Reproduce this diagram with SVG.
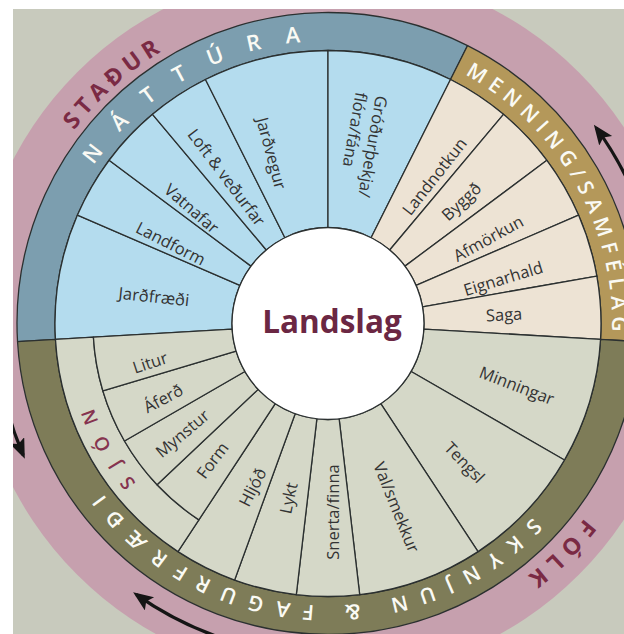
<svg xmlns="http://www.w3.org/2000/svg" xmlns:xlink="http://www.w3.org/1999/xlink" width="624" height="634" viewBox="0 0 624 634">
<style>
.ln{stroke:#2b3030;stroke-width:1.3;stroke-linejoin:round}
.sb{fill:#b4dcee}
.sg{fill:#ede3d4}
.so{fill:#d5d8c8}
.bb{fill:#7c9eaf}
.bgd{fill:#b4985a}
.bo{fill:#7e7c58}
.lbl{font-family:'Open Sans','Liberation Sans',sans-serif;font-size:16.5px;fill:#333;text-anchor:middle;dominant-baseline:central}
.arc{font-family:'Open Sans','Liberation Sans',sans-serif;font-weight:600;fill:#fafaf4;text-anchor:middle}
.pk{font-family:'Open Sans','Liberation Sans',sans-serif;font-weight:700;fill:#7a2a44;text-anchor:middle}
.arr{fill:none;stroke:#151515;stroke-width:3.2}
</style>
<defs>
<marker id="ah" markerUnits="userSpaceOnUse" markerWidth="22" markerHeight="18" refX="16" refY="8" orient="auto">
<path d="M0,0 L20,8 L0,16 L4,8 Z" fill="#151515"/>
</marker>
<path id="pStadur" d="M540.21,561.68 A319,319 0 1 1 115.79,85.32 A319,319 0 1 1 540.21,561.68"/>
<path id="pNatt" d="M461.93,572.24 A282,282 0 1 1 194.07,74.76 A282,282 0 1 1 461.93,572.24"/>
<path id="pMenn" d="M80.01,461.91 A284,284 0 1 1 575.99,185.09 A284,284 0 1 1 80.01,461.91"/>
<path id="pSkyn" d="M349.64,42.33 A282,282 0 1 1 306.36,604.67 A282,282 0 1 1 349.64,42.33"/>
<path id="pSjon" d="M547.44,205.84 A249,249 0 1 1 108.56,441.16 A249,249 0 1 1 547.44,205.84"/>
<path id="pFolk" d="M100.71,95.41 A322,322 0 1 1 555.29,551.59 A322,322 0 1 1 100.71,95.41"/>
</defs>

<rect x="0" y="0" width="624" height="634" fill="#c8cabd"/>
<circle cx="328" cy="323.5" r="355" fill="#c6a0ae"/>

<g id="band-nattura">
<path class="bb ln" d="M17.53,341.58 A311,311 0 0 1 467.58,45.58 L450.52,79.54 A273,273 0 0 0 55.46,339.37 Z"/>
<text class="arc" font-size="22" letter-spacing="24.5"><textPath xlink:href="#pNatt" startOffset="50%">NÁTTÚRA</textPath></text>
</g>
<g id="band-menning">
<path class="bgd ln" d="M467.58,45.58 A311,311 0 0 1 638.47,341.58 L600.54,339.37 A273,273 0 0 0 450.52,79.54 Z"/>
<text class="arc" font-size="21" letter-spacing="6.2"><textPath xlink:href="#pMenn" startOffset="50%">MENNING/SAMFÉLAG</textPath></text>
</g>
<g id="band-skynjun">
<path class="bo ln" d="M638.47,341.58 A311,311 0 0 1 17.53,341.58 L55.46,339.37 A273,273 0 0 0 600.54,339.37 Z"/>
<text class="arc" font-size="21" letter-spacing="12.4"><textPath xlink:href="#pSkyn" startOffset="50%">SKYNJUN &amp; FAGURFRÆÐI</textPath></text>
</g>
<g id="label-stadur">
<text class="pk" font-size="23" letter-spacing="5.2"><textPath xlink:href="#pStadur" startOffset="50%">STAÐUR</textPath></text>
</g>
<g id="label-folk">
<text class="pk" font-size="23" letter-spacing="7.5"><textPath xlink:href="#pFolk" startOffset="50%">FÓLK</textPath></text>
</g>

<g id="seg-jardfraedi"><path class="sb ln" d="M55.46,339.37 A273,273 0 0 1 77.45,215.08 L239.90,285.37 A96,96 0 0 0 232.16,329.08 Z"/><text class="lbl" transform="translate(154,296) rotate(6)">Jarðfræði</text></g>
<g id="seg-landform"><path class="sb ln" d="M77.45,215.08 A273,273 0 0 1 109.11,160.35 L251.03,266.13 A96,96 0 0 0 239.90,285.37 Z"/><text class="lbl" transform="translate(171,243) rotate(27)">Landform</text></g>
<g id="seg-vatnafar"><path class="sb ln" d="M109.11,160.35 A273,273 0 0 1 152.52,114.37 L266.29,249.96 A96,96 0 0 0 251.03,266.13 Z"/><text class="lbl" transform="translate(192,208) rotate(41)">Vatnafar</text></g>
<g id="seg-loft"><path class="sb ln" d="M152.52,114.37 A273,273 0 0 1 205.48,79.54 L284.92,237.71 A96,96 0 0 0 266.29,249.96 Z"/><text class="lbl" transform="translate(227,177) rotate(53)">Loft &amp; veðurfar</text></g>
<g id="seg-jardvegur"><path class="sb ln" d="M205.48,79.54 A273,273 0 0 1 328,50.5 L328,227.5 A96,96 0 0 0 284.92,237.71 Z"/><text class="lbl" transform="translate(272,153) rotate(75)">Jarðvegur</text></g>
<g id="seg-grodur"><path class="sb ln" d="M328,50.5 A273,273 0 0 1 450.52,79.54 L371.08,237.71 A96,96 0 0 0 328,227.5 Z"/><text class="lbl" style="text-anchor:start;dominant-baseline:auto" transform="translate(376,95) rotate(100)"><tspan x="0" y="0">Gróðurþekja/</tspan><tspan x="0" y="20.5">flóra/fána</tspan></text></g>

<g id="seg-landnotkun"><path class="sg ln" d="M450.52,79.54 A273,273 0 0 1 503.48,114.37 L389.71,249.96 A96,96 0 0 0 371.08,237.71 Z"/><text class="lbl" transform="translate(434,176) rotate(-52)">Landnotkun</text></g>
<g id="seg-byggd"><path class="sg ln" d="M503.48,114.37 A273,273 0 0 1 546.89,160.35 L404.97,266.13 A96,96 0 0 0 389.71,249.96 Z"/><text class="lbl" transform="translate(461,201) rotate(-43)">Byggð</text></g>
<g id="seg-afmorkun"><path class="sg ln" d="M546.89,160.35 A273,273 0 0 1 578.55,215.08 L416.10,285.37 A96,96 0 0 0 404.97,266.13 Z"/><text class="lbl" transform="translate(488,238) rotate(-29)">Afmörkun</text></g>
<g id="seg-eignarhald"><path class="sg ln" d="M578.55,215.08 A273,273 0 0 1 596.85,276.09 L422.54,306.83 A96,96 0 0 0 416.10,285.37 Z"/><text class="lbl" transform="translate(503,278) rotate(-17)">Eignarhald</text></g>
<g id="seg-saga"><path class="sg ln" d="M596.85,276.09 A273,273 0 0 1 600.54,339.37 L423.84,329.08 A96,96 0 0 0 422.54,306.83 Z"/><text class="lbl" transform="translate(504,314) rotate(-3)">Saga</text></g>

<g id="seg-minningar"><path class="so ln" d="M600.54,339.37 A273,273 0 0 1 564.43,460 L411.14,371.5 A96,96 0 0 0 423.84,329.08 Z"/><text class="lbl" transform="translate(517,385) rotate(21)">Minningar</text></g>
<g id="seg-tengsl"><path class="so ln" d="M564.43,460 A273,273 0 0 1 478.02,551.59 L380.75,403.71 A96,96 0 0 0 411.14,371.5 Z"/><text class="lbl" transform="translate(465,462) rotate(46)">Tengsl</text></g>
<g id="seg-val"><path class="so ln" d="M478.02,551.59 A273,273 0 0 1 359.69,594.65 L339.14,418.85 A96,96 0 0 0 380.75,403.71 Z"/><text class="lbl" transform="translate(397,507) rotate(68)">Val/smekkur</text></g>
<g id="seg-snerta"><path class="so ln" d="M359.69,594.65 A273,273 0 0 1 296.31,594.65 L316.86,418.85 A96,96 0 0 0 339.14,418.85 Z"/><text class="lbl" transform="translate(332,512) rotate(-90)">Snerta/finna</text></g>
<g id="seg-lykt"><path class="so ln" d="M296.31,594.65 A273,273 0 0 1 234.63,580.04 L295.17,413.71 A96,96 0 0 0 316.86,418.85 Z"/><text class="lbl" transform="translate(288,498) rotate(-78)">Lykt</text></g>
<g id="seg-hljod"><path class="so ln" d="M234.63,580.04 A273,273 0 0 1 177.98,551.59 L275.25,403.71 A96,96 0 0 0 295.17,413.71 Z"/><text class="lbl" transform="translate(252,487) rotate(-63)">Hljóð</text></g>
<g id="seg-sjon"><path class="so ln" d="M177.98,551.59 A273,273 0 0 1 55.46,339.37 L93.40,337.16 A235,235 0 0 0 198.87,519.84 Z"/><text class="pk" style="font-weight:600;fill:#86344f" font-size="19" letter-spacing="13.7"><textPath xlink:href="#pSjon" startOffset="50%">SJÓN</textPath></text></g>
<g id="seg-form"><path class="so ln" d="M198.87,519.84 A235,235 0 0 1 157.07,484.77 L258.17,389.38 A96,96 0 0 0 275.25,403.71 Z"/><text class="lbl" transform="translate(212,460) rotate(-53)">Form</text></g>
<g id="seg-mynstur"><path class="so ln" d="M157.07,484.77 A235,235 0 0 1 124.48,441 L244.86,371.5 A96,96 0 0 0 258.17,389.38 Z"/><text class="lbl" transform="translate(182,433) rotate(-40)">Mynstur</text></g>
<g id="seg-aferd"><path class="so ln" d="M124.48,441 A235,235 0 0 1 102.88,390.90 L236.04,351.03 A96,96 0 0 0 244.86,371.5 Z"/><text class="lbl" transform="translate(163,398) rotate(-28)">Áferð</text></g>
<g id="seg-litur"><path class="so ln" d="M102.88,390.90 A235,235 0 0 1 93.40,337.16 L232.16,329.08 A96,96 0 0 0 236.04,351.03 Z"/><text class="lbl" transform="translate(150,362) rotate(-18)">Litur</text></g>

<g id="center">
<circle cx="328" cy="323.5" r="96" fill="#ffffff" class="ln"/>
<text x="332" y="333" font-family="'Open Sans','Liberation Sans',sans-serif" font-weight="700" font-size="31.5" fill="#6b2743" text-anchor="middle">Landslag</text>
</g>

<g id="connectors">
<path class="arr" marker-end="url(#ah)" d="M648.69,237.57 A332,332 0 0 0 596.25,127.89"/>
<path class="arr" marker-end="url(#ah)" d="M-3.80,335.09 A332,332 0 0 0 23.21,455.09"/>
<path class="arr" marker-end="url(#ah)" d="M242.07,644.19 A332,332 0 0 1 136.39,594.62"/>
</g>

<rect x="0" y="0" width="624" height="9" fill="#ffffff"/>
<rect x="0" y="0" width="13" height="634" fill="#ffffff"/>
</svg>
